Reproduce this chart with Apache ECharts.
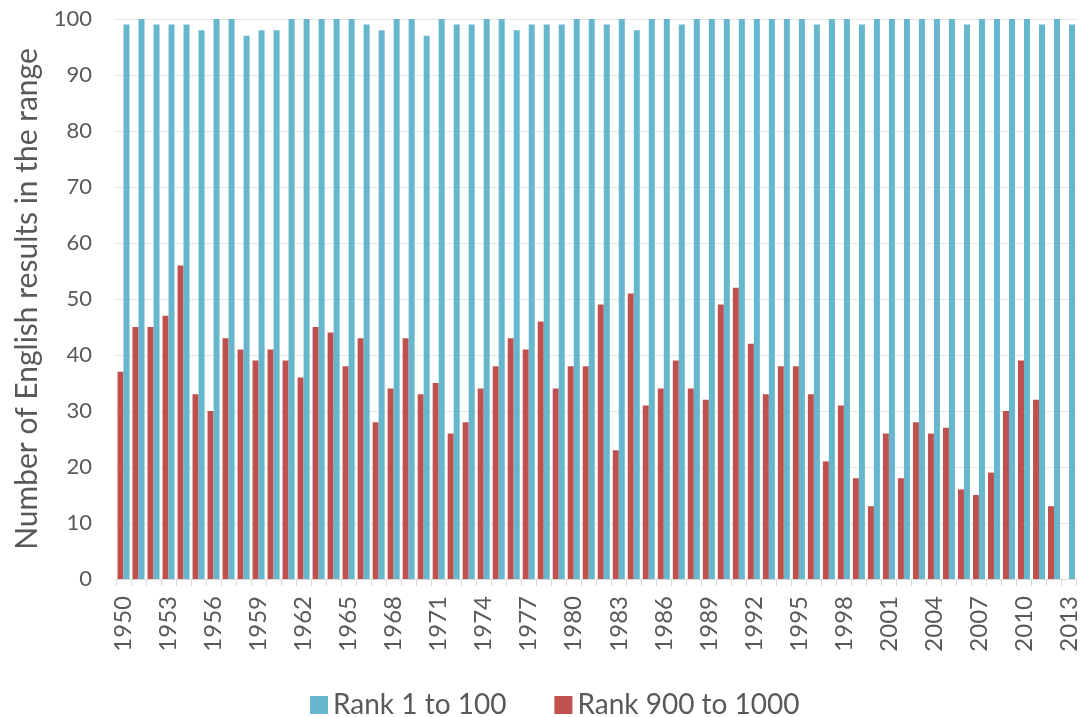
<!DOCTYPE html>
<html>
<head>
<meta charset="utf-8">
<script src="https://cdn.jsdelivr.net/npm/echarts@6/dist/echarts.min.js"></script>
<style>
  html, body { margin: 0; padding: 0; background: #fff; }
  #main { width: 1081px; height: 717px; }
</style>
</head>
<body>
<div id="main"></div>
<script>
// data
var years = [];
for (var y = 1950; y <= 2013; y++) years.push(String(y));

var top100 = [99, 100, 99, 99, 99, 98, 100, 100, 97, 98, 98, 100, 100, 100, 100, 100, 99, 98, 100, 100,
              97, 100, 99, 99, 100, 100, 98, 99, 99, 99, 100, 100, 99, 100, 98, 100, 100, 99, 100, 100,
              100, 100, 100, 100, 100, 100, 99, 100, 100, 99, 100, 100, 100, 100, 100, 100, 99, 100, 100, 100,
              100, 99, 100, 99];

var rank900 = [37, 45, 45, 47, 56, 33, 30, 43, 41, 39, 41, 39, 36, 45, 44, 38, 43, 28, 34, 43,
               33, 35, 26, 28, 34, 38, 43, 41, 46, 34, 38, 38, 49, 23, 51, 31, 34, 39, 34, 32,
               49, 52, 42, 33, 38, 38, 33, 21, 31, 18, 13, 26, 18, 28, 26, 27, 16, 15, 19, 30,
               39, 32, 13, null];

var seriesNames = ['Rank 1 to 100', 'Rank 900 to 1000'];
var textColor = '#595959';
var fontName = 'Lato';

var dom = document.getElementById('main');
var myChart = echarts.init(dom, null, { renderer: 'canvas' });

var option = {
    animation: false,
    textStyle: { fontFamily: fontName, color: textColor },
    grid: { left: 116, right: 3, top: 19, bottom: 138 },
    legend: {
        data: [seriesNames[0], seriesNames[1]],
        top: 686,
        left: 305,
        itemWidth: 18,
        itemHeight: 18,
        itemGap: 48,
        icon: 'rect',
        textStyle: { fontSize: 28, color: textColor, fontFamily: fontName }
    },
    xAxis: {
        type: 'category',
        data: years,
        boundaryGap: true,
        axisLine: { lineStyle: { color: '#d9d9d9', width: 1 } },
        axisTick: { show: true, interval: 0, length: 7, lineStyle: { color: '#d9d9d9' } },
        axisLabel: {
            interval: 2,
            rotate: 90,
            margin: 17,
            fontSize: 24,
            color: textColor,
            fontFamily: fontName
        },
        splitLine: { show: false }
    },
    yAxis: {
        type: 'value',
        min: 0,
        max: 100,
        interval: 10,
        name: 'Number of English results in the range',
        nameLocation: 'middle',
        nameGap: 74,
        nameTextStyle: { fontSize: 30, color: textColor, fontFamily: fontName },
        axisLine: { show: false },
        axisTick: { show: false },
        axisLabel: { margin: 24, fontSize: 22, color: textColor, fontFamily: fontName },
        splitLine: { lineStyle: { color: '#e6e6e6', width: 1 } }
    },
    series: [
        {
            name: seriesNames[1],
            type: 'bar',
            data: rank900,
            barWidth: 6,
            barGap: '0%',
            itemStyle: { color: '#c0504d' }
        },
        {
            name: seriesNames[0],
            type: 'bar',
            data: top100,
            barWidth: 6,
            barGap: '0%',
            itemStyle: { color: '#66b7cd' }
        }
    ]
};

myChart.setOption(option);
</script>
</body>
</html>
